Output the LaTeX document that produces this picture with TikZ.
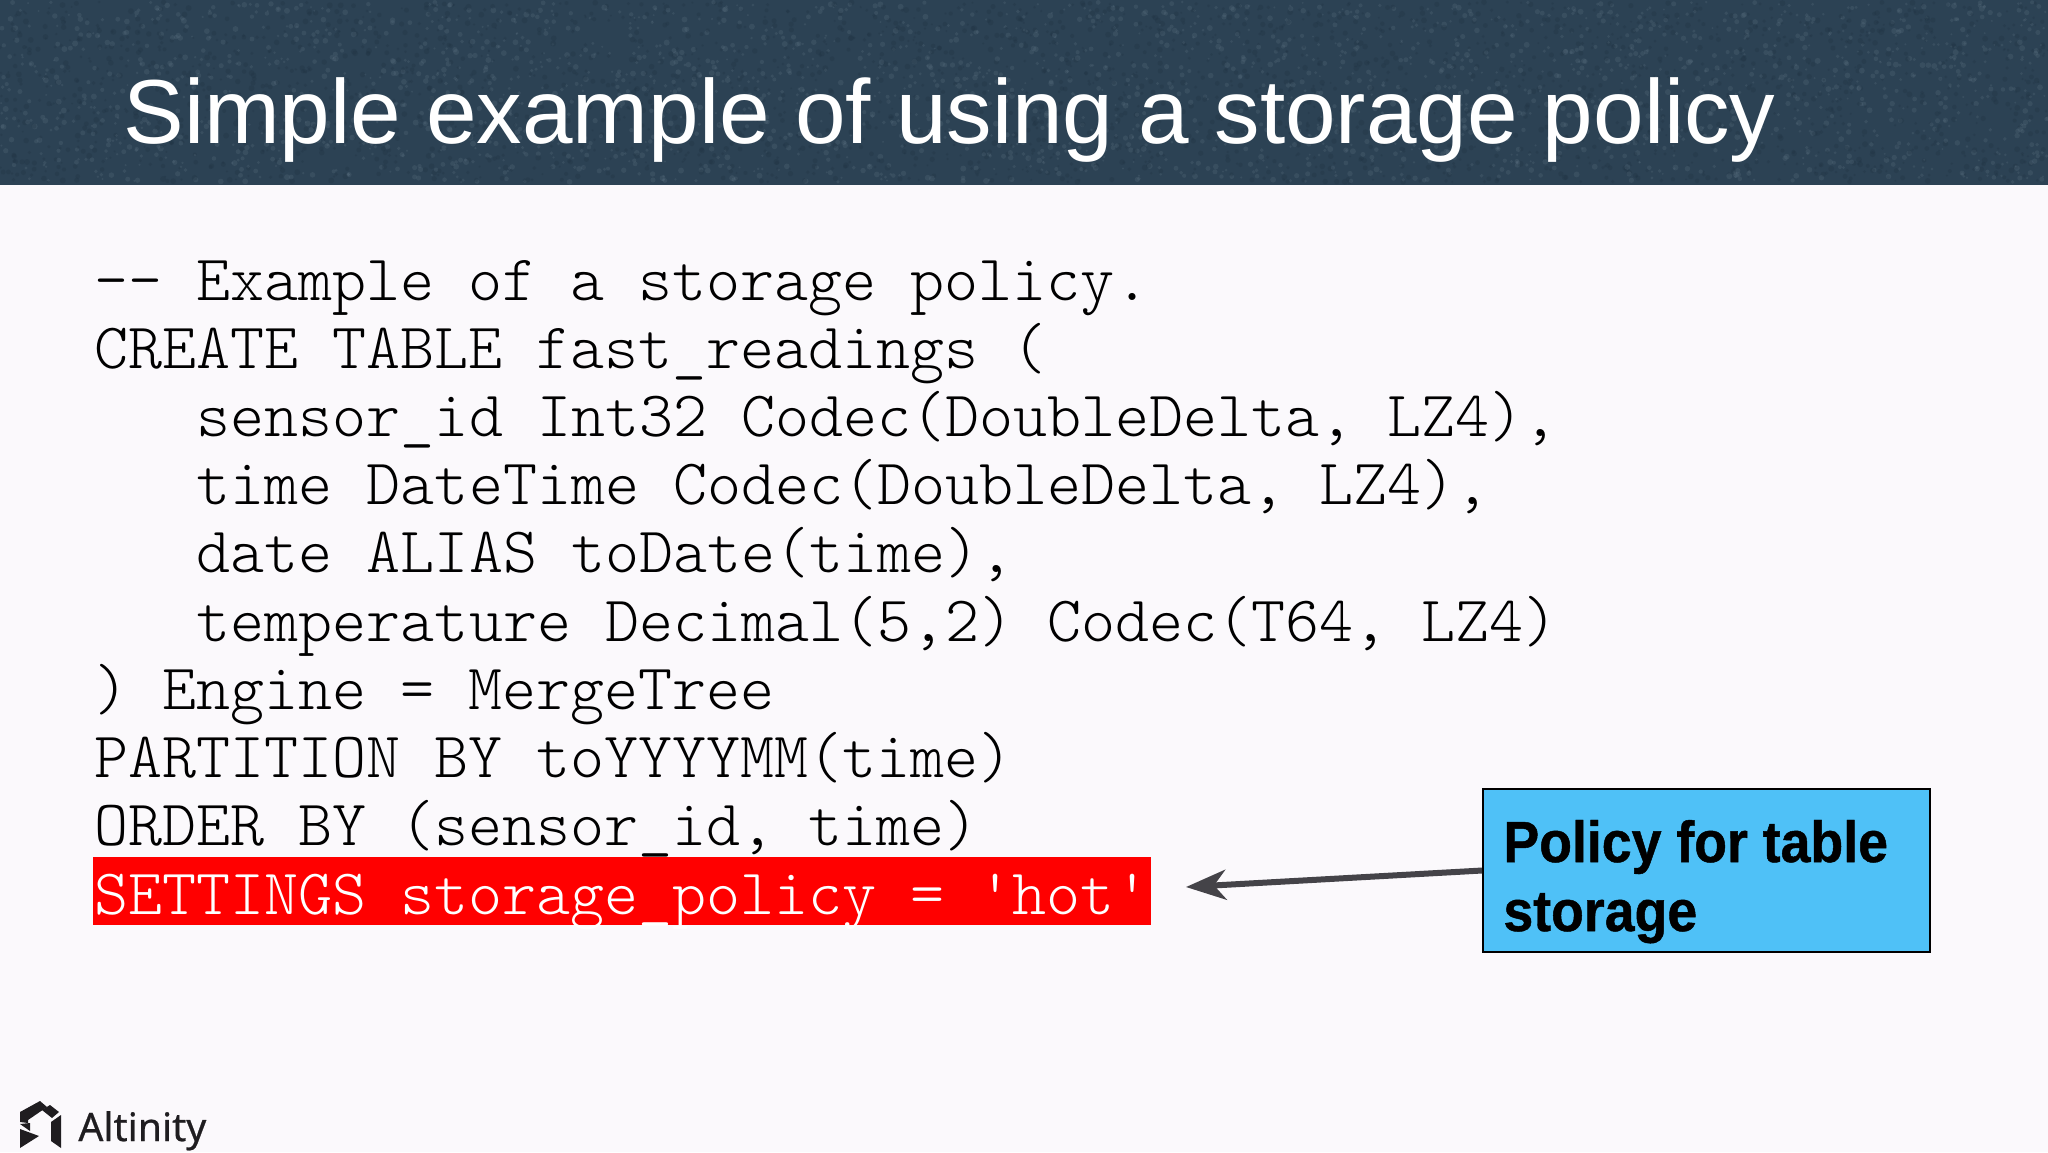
\documentclass[tikz,border=0pt]{standalone}
\usepackage{fontspec}
\setmainfont{Liberation Sans}
\newfontfamily\logofont[FakeBold=0.6]{Noto Sans}
\newfontfamily\policyfont[FakeStretch=0.925,FakeBold=0.8]{Liberation Sans Bold}
\newfontfamily\codefont{Latin Modern Mono Light}
\usetikzlibrary{positioning,arrows.meta}
\definecolor{pagebg}{HTML}{FBF9FC}
\definecolor{headerbg}{HTML}{2C4254}
\definecolor{speck}{HTML}{64798A}
\definecolor{darkspeck}{HTML}{1F3343}
\definecolor{boxblue}{HTML}{4FC1F7}
\definecolor{arrowgray}{HTML}{444348}
\definecolor{logoblack}{HTML}{1F1D20}
\begin{document}
\begin{tikzpicture}[
    x=0.5pt, y=-0.5pt,
    codeline/.style={anchor=base west, inner sep=0pt, font=\codefont\fontsize{32.4pt}{35pt}\selectfont, text=black},
    titletext/.style={anchor=base west, inner sep=0pt, text=white, font=\fontsize{45.45pt}{50pt}\selectfont},
    policybox/.style={draw=black, line width=1pt, fill=boxblue, minimum width=223.5pt, minimum height=81.5pt, inner sep=0pt},
    policytext/.style={anchor=base west, inner sep=0pt, text=black, font=\policyfont\fontsize{29pt}{31pt}\selectfont}]

  \useasboundingbox (0,0) rectangle (2048,1152);

  % page and header
  \fill [pagebg] (0,0) rectangle (2048,1152);
  \fill [headerbg] (0,0) rectangle (2048,185);
  \pgfmathsetseed{42}
  \foreach \s in {1,...,2600}{
    \pgfmathsetmacro{\px}{rnd*2048}
    \pgfmathsetmacro{\py}{rnd*180+2}
    \pgfmathsetmacro{\pr}{1+rnd*2}
    \fill [speck, opacity=0.22] (\px,\py) circle (\pr);
    \pgfmathsetmacro{\qx}{rnd*2048}
    \pgfmathsetmacro{\qy}{rnd*180+2}
    \fill [darkspeck, opacity=0.3] (\qx,\qy) circle (\pr);
  }

  % title
  \node [titletext] (title) at (123,143) {Simple example of using a storage policy};

  % highlight
  \fill [red] (93,857) rectangle (1151,925);

  % code lines
  \foreach \n/\ind/\txt in {
    1/0/{-- Example of a storage policy.},
    2/0/{CREATE TABLE fast\_readings (},
    3/3/{sensor\_id Int32 Codec(DoubleDelta, LZ4),},
    4/3/{time DateTime Codec(DoubleDelta, LZ4),},
    5/3/{date ALIAS toDate(time),},
    6/3/{temperature Decimal(5,2) Codec(T64, LZ4)},
    7/0/{) Engine = MergeTree},
    8/0/{PARTITION BY toYYYYMM(time)},
    9/0/{ORDER BY (sensor\_id, time)}}{
    \node [codeline] (line\n) at (94+34.15*\ind, 300+68.2*\n-68.2) {\txt};
  }
  \node [codeline, text=white] (line10) at (94,914) {SETTINGS storage\_policy = 'hot'};

  % callout
  \node [policybox] (policy) at (1706.5,870.5) {};
  \node [policytext] (policy1) at (1503,862) {Policy for table};
  \node [policytext] (policy2) at (1503,931) {storage};
  \coordinate (tip) at (1186,887);
  \draw [-{Stealth[length=20pt, width=15pt, inset=6pt]}, arrowgray, line width=3pt] (policy.west) -- (tip);

  % logo
  \fill [logoblack] (20,1112) -- (40,1101) -- (47,1107) -- (28,1120) -- (28,1123) -- (20,1122) -- cycle;
  \fill [logoblack] (42,1110) -- (50,1105) -- (59,1112) -- (52,1118) -- cycle;
  \fill [logoblack] (51,1122) -- (61,1115) -- (61,1148) -- (51,1141) -- cycle;
  \fill [logoblack] (20,1124) -- (30,1123) -- (30,1131) -- cycle;
  \fill [logoblack] (20,1129) -- (39,1136) -- (20,1148) -- cycle;
  \node [anchor=base west, inner sep=0pt, text=logoblack, font=\logofont\fontsize{19.6pt}{21pt}\selectfont] (logotext) at (78,1141) {Altinity};
\end{tikzpicture}
\end{document}
